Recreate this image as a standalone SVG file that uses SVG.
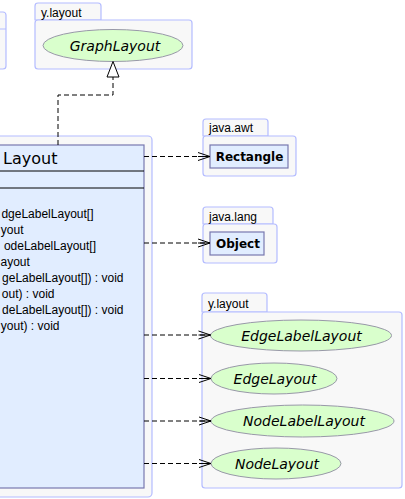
<svg xmlns="http://www.w3.org/2000/svg" width="405" height="499" viewBox="0 0 405 499">
<style>
.pkg{fill:#f8f8f8;stroke:#b4bcff;stroke-width:1.2}
.pl{font-family:"Liberation Sans",Arial,sans-serif;font-size:12px;fill:#000}
.cls{fill:#e1edff;stroke:#7878b0;stroke-width:1.2}
.cn{font-family:"DejaVu Sans",sans-serif;font-size:12px;font-weight:bold;fill:#000;text-anchor:middle}
.ell{fill:#d9ffcc;stroke:#9898a8;stroke-width:1}
.et{font-family:"DejaVu Sans",sans-serif;font-size:14px;font-style:italic;fill:#000;text-anchor:middle}
.mem{font-family:"Liberation Sans",Arial,sans-serif;font-size:12px;fill:#000;text-anchor:end}
.dep{fill:none;stroke:#000;stroke-width:1;stroke-dasharray:5,3}
.sep{stroke:#000;stroke-width:1}
</style>
<defs>
<marker id="open" markerWidth="14" markerHeight="10" refX="13" refY="5" orient="auto" markerUnits="userSpaceOnUse">
<path d="M1,1 L13,5 L1,9 M1,5 L13,5" fill="none" stroke="#000" stroke-width="1"/>
</marker>
</defs>

<g id="pkg-left">
<rect class="pkg" x="-50" y="12" width="56" height="57" rx="3"/>
<line x1="-50" y1="29" x2="6" y2="29" stroke="#b4bcff" stroke-width="1.2"/>
</g>

<g id="pkg-ylayout-top">
<path class="pkg" d="M35,20 V6 Q35,3 38,3 H98 Q101,3 101,6 V20 Z"/>
<rect class="pkg" x="35" y="20" width="157" height="49" rx="3"/>
<text class="pl" x="41" y="17">y.layout</text>
</g>
<g id="GraphLayout">
<ellipse class="ell" cx="113" cy="45.5" rx="70" ry="16"/>
<text class="et" x="115" y="50.5">GraphLayout</text>
</g>

<g id="pkg-java-awt">
<path class="pkg" d="M203,136 V122 Q203,119 206,119 H265 Q268,119 268,122 V136 Z"/>
<rect class="pkg" x="203" y="136" width="93" height="40" rx="3"/>
<text class="pl" x="209" y="131.5">java.awt</text>
</g>
<g id="Rectangle">
<rect class="cls" x="210" y="145" width="78" height="23"/>
<text class="cn" x="249.5" y="161">Rectangle</text>
</g>

<g id="pkg-java-lang">
<path class="pkg" d="M203,224 V210 Q203,207 206,207 H270 Q273,207 273,210 V224 Z"/>
<rect class="pkg" x="203" y="224" width="74" height="39" rx="3"/>
<text class="pl" x="209" y="220.5">java.lang</text>
</g>
<g id="Object">
<rect class="cls" x="210" y="232" width="54" height="23"/>
<text class="cn" x="238" y="248">Object</text>
</g>

<g id="pkg-ylayout-bottom">
<path class="pkg" d="M202,312 V296 Q202,293 205,293 H264 Q267,293 267,296 V312 Z"/>
<rect class="pkg" x="202" y="312" width="200" height="176" rx="3"/>
<text class="pl" x="208" y="308">y.layout</text>
</g>
<g id="EdgeLabelLayout">
<ellipse class="ell" cx="301" cy="335.5" rx="90.5" ry="15.5"/>
<text class="et" x="301.5" y="340.5">EdgeLabelLayout</text>
</g>
<g id="EdgeLayout">
<ellipse class="ell" cx="274" cy="378.5" rx="63" ry="15.5"/>
<text class="et" x="275" y="383.5">EdgeLayout</text>
</g>
<g id="NodeLabelLayout">
<ellipse class="ell" cx="302.5" cy="421" rx="91.5" ry="16"/>
<text class="et" x="304" y="426">NodeLabelLayout</text>
</g>
<g id="NodeLayout">
<ellipse class="ell" cx="276" cy="463.5" rx="65" ry="15.5"/>
<text class="et" x="277" y="468.5">NodeLayout</text>
</g>

<g id="Layout">
<rect class="pkg" x="-50" y="136" width="202" height="361" rx="4" fill="#f9f9f9"/>
<rect class="cls" x="-50" y="145" width="194" height="343"/>
<text x="57.5" y="164" font-family="DejaVu Sans,sans-serif" font-size="16" text-anchor="end">Layout</text>
<line class="sep" x1="-50" y1="171" x2="144" y2="171"/>
<line class="sep" x1="-50" y1="188" x2="144" y2="188"/>
<text class="mem" x="93.5" y="218">dgeLabelLayout[]</text>
<text class="mem" x="23.5" y="234">yout</text>
<text class="mem" x="96" y="250">odeLabelLayout[]</text>
<text class="mem" x="0.5" y="266" style="text-anchor:start">ayout</text>
<text class="mem" x="123.5" y="282">geLabelLayout[]) : void</text>
<text class="mem" x="54.5" y="298">out) : void</text>
<text class="mem" x="123.5" y="314">deLabelLayout[]) : void</text>
<text class="mem" x="59.5" y="330">yout) : void</text>
</g>

<g id="connectors">
<path class="dep" d="M58,145 V95 H113 V77"/>
<path d="M113,61.5 L107,77 H119 Z" fill="#fff" stroke="#000" stroke-width="1"/>
<path class="dep" d="M144,156.5 H210" marker-end="url(#open)"/>
<path class="dep" d="M144,243 H210" marker-end="url(#open)"/>
<path class="dep" d="M144,335 H210.5" marker-end="url(#open)"/>
<path class="dep" d="M144,378.5 H211" marker-end="url(#open)"/>
<path class="dep" d="M144,421 H211" marker-end="url(#open)"/>
<path class="dep" d="M144,463.5 H211" marker-end="url(#open)"/>
</g>
</svg>
